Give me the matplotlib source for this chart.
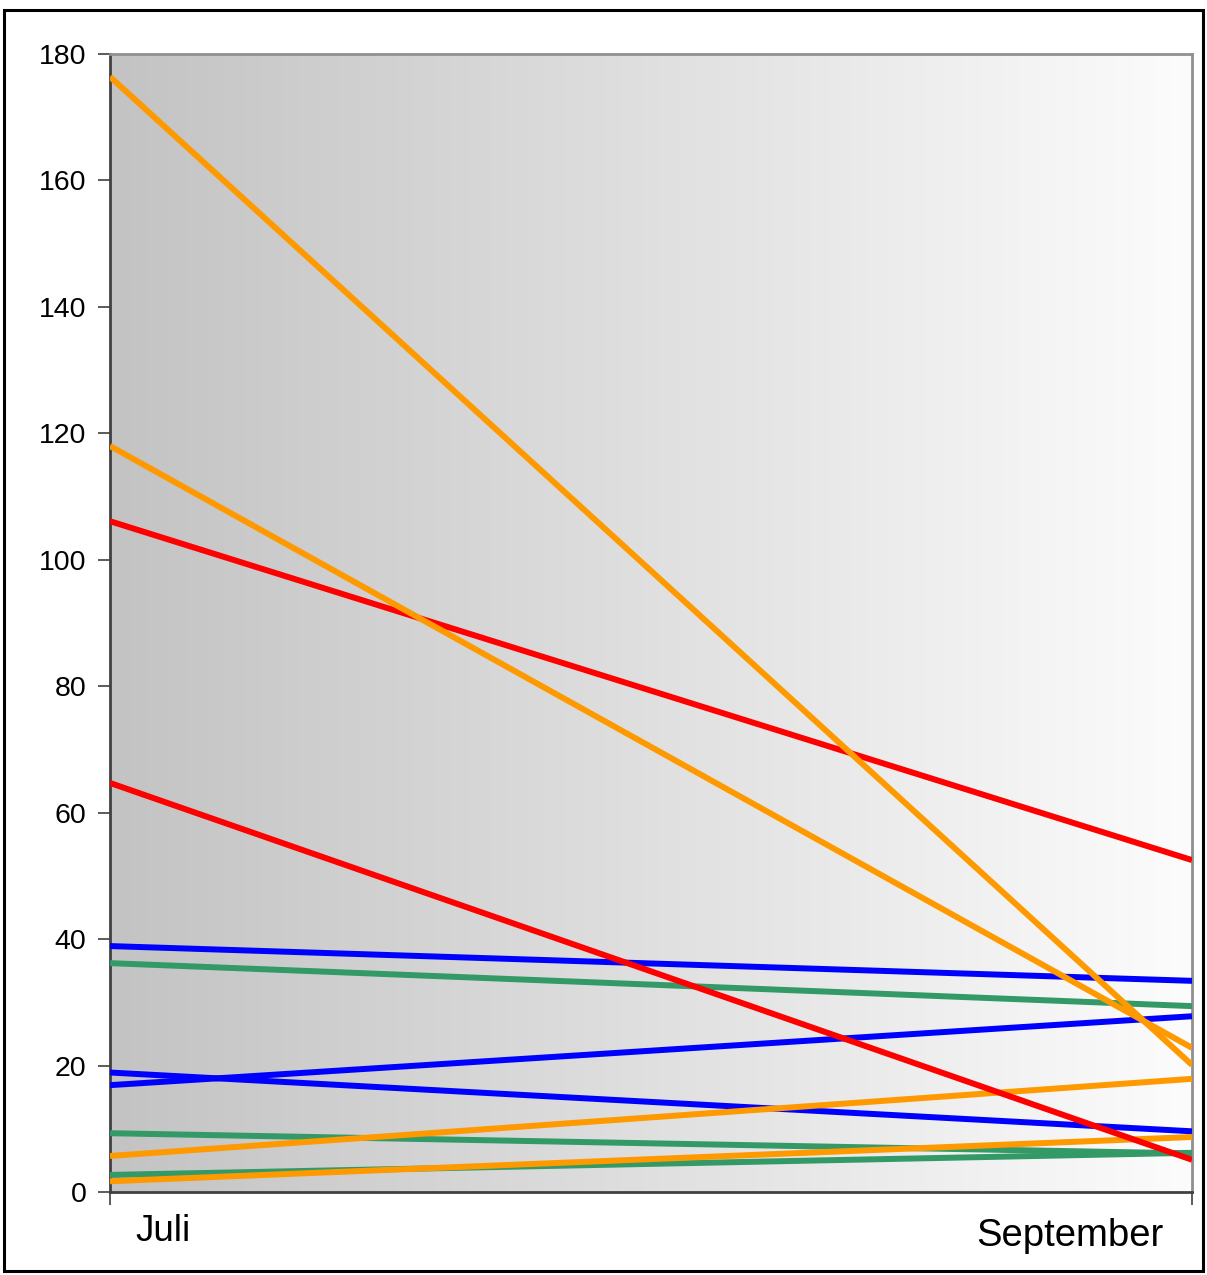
import matplotlib
matplotlib.use("Agg")
import matplotlib.pyplot as plt
import numpy as np
from matplotlib.patches import Rectangle
from matplotlib.colors import LinearSegmentedColormap

months = ["Juli", "September"]
orange_a = [176.4, 20.1]
orange_b = [118.0, 22.8]
orange_c = [5.7, 17.9]
orange_d = [1.7, 8.7]
red_a = [106.1, 52.5]
red_b = [64.7, 5.1]
blue_a = [38.9, 33.4]
blue_b = [18.9, 9.6]
blue_c = [16.9, 27.8]
green_a = [36.2, 29.4]
green_b = [9.3, 6.1]
green_c = [2.7, 6.2]
yticks = [0, 20, 40, 60, 80, 100, 120, 140, 160, 180]

series = [
    (green_a, "#339966"), (green_b, "#339966"), (green_c, "#339966"),
    (blue_a, "#0000FF"), (blue_b, "#0000FF"), (blue_c, "#0000FF"),
    (orange_c, "#FF9900"), (orange_d, "#FF9900"),
    (red_a, "#FF0000"), (red_b, "#FF0000"),
    (orange_a, "#FF9900"), (orange_b, "#FF9900"),
]

plt.rcParams['font.family'] = ['Liberation Sans', 'DejaVu Sans']
W, H = 1207, 1275
fig = plt.figure(figsize=(W / 100, H / 100), dpi=100)

# outer frame
fig.patches.append(Rectangle((4 / W, 1 - 1271 / H), (1203 - 4) / W, (1271 - 10) / H,
                             transform=fig.transFigure, fill=False, edgecolor="black",
                             linewidth=2.2, zorder=0))

left, right, top, bottom = 110, 1192, 54, 1192
ax = fig.add_axes([left / W, 1 - bottom / H, (right - left) / W, (bottom - top) / H])

x = np.arange(len(months))
ax.set_xlim(0, 1)
ax.set_ylim(0, 180)

# gradient background
grad = np.linspace(0, 1, 256).reshape(1, -1)
cmap = LinearSegmentedColormap.from_list("bg", ["#C3C3C3", "#FCFCFC"])
ax.imshow(grad, extent=[0, 1, 0, 1], transform=ax.transAxes, aspect="auto",
          cmap=cmap, zorder=0)

for vals, col in series:
    ax.plot(x, vals, color=col, linewidth=4.3, solid_capstyle="butt", zorder=3)

ax.set_yticks(yticks)
ax.set_yticklabels([str(v) for v in yticks], fontsize=20.5)
ax.tick_params(axis="y", direction="out", length=9, width=1.2, color="#404040", pad=8)
ax.set_xticks(x)
ax.set_xticklabels(["", ""])
ax.tick_params(axis="x", direction="out", length=9, width=1.2, color="#404040")

for s in ["left", "bottom"]:
    ax.spines[s].set_color("#404040")
    ax.spines[s].set_linewidth(2)
for s in ["top", "right"]:
    ax.spines[s].set_color("#909090")
    ax.spines[s].set_linewidth(2)

ax.text((135 - left) / (right - left), -0.035, months[0], transform=ax.transAxes,
        ha="left", va="center", fontsize=26.5)
ax.text((1163 - left) / (right - left), -0.0387, months[1], transform=ax.transAxes,
        ha="right", va="center", fontsize=27.5)

fig.savefig("out.png", dpi=100)
